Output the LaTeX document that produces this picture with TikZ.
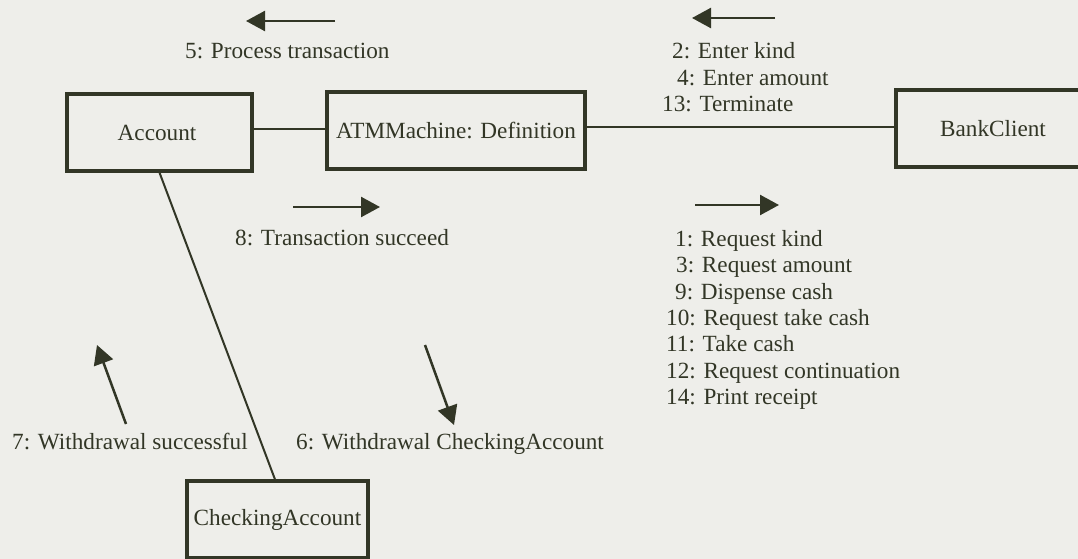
\documentclass[tikz,border=0pt]{standalone}
\usepackage{fontspec}
\setmainfont{Liberation Serif}
\usetikzlibrary{arrows.meta}
\definecolor{paper}{RGB}{238,238,234}
\definecolor{ink}{RGB}{50,54,38}
\begin{document}
\begin{tikzpicture}[x=1pt,y=-1pt,
  every node/.style={font=\fontsize{23.2}{26.3}\selectfont, text=ink},
  obj/.style={draw=ink, line width=3.2pt, rectangle, inner sep=0pt},
  link/.style={draw=ink, line width=2pt},
  msg/.style={draw=ink, line width=2.5pt, -{Triangle[length=19pt,width=20pt]}},
  lbl/.style={anchor=base west, inner sep=0pt}]
\fill[paper] (0,0) rectangle (1078,559);
\useasboundingbox (0,0) rectangle (1078,559);

% objects
\node[obj, minimum width=185pt, minimum height=77pt] (account) at (159.5,132.5) {\hspace*{-5pt}Account};
\node[obj, minimum width=258pt, minimum height=77pt] (atm) at (456,130.5) {ATMMachine: Definition};
\node[obj, minimum width=220pt, minimum height=77pt] (bank) at (1006,128.5) {\hspace*{-26pt}BankClient};
\node[obj, minimum width=181pt, minimum height=77pt] (check) at (277.5,519.5) {CheckingAccount};

% links
\draw[link] (account.east |- 0,129) -- (atm.west |- 0,129);
\draw[link] (atm.east |- 0,127) -- (bank.west |- 0,127);
\draw[link] (account.south) -- ([xshift=-2.5pt]check.north);

% message arrows
\coordinate (m5a) at (335,21);  \coordinate (m5b) at (246,21);
\coordinate (m2a) at (775,18);  \coordinate (m2b) at (692,18);
\coordinate (m8a) at (293,207); \coordinate (m8b) at (380,207);
\coordinate (m1a) at (695,205); \coordinate (m1b) at (779,205);
\coordinate (m7a) at (126,424); \coordinate (m7b) at (97,345);
\coordinate (m6a) at (425,345); \coordinate (m6b) at (454,425);
\draw[msg] (m5a) -- (m5b);
\draw[msg] (m2a) -- (m2b);
\draw[msg] (m8a) -- (m8b);
\draw[msg] (m1a) -- (m1b);
\draw[msg] (m7a) -- (m7b);
\draw[msg] (m6a) -- (m6b);

% message labels
\node[lbl] (l5) at (185,59) {5: Process transaction};
\node[lbl] (l2) at (672,59) {2: Enter kind};
\node[lbl] (l4) at (677,85.5) {4: Enter amount};
\node[lbl] (l13) at (662,112) {13: Terminate};
\node[lbl] (l8) at (235,245) {8: Transaction succeed};
\node[lbl] (l1) at (675,246) {1: Request kind};
\node[lbl] (l3) at (676,272.5) {3: Request amount};
\node[lbl] (l9) at (675,299) {9: Dispense cash};
\node[lbl] (l10) at (666,325) {10: Request take cash};
\node[lbl] (l11) at (666,351.5) {11: Take cash};
\node[lbl] (l12) at (666,378) {12: Request continuation};
\node[lbl] (l14) at (666,404) {14: Print receipt};
\node[lbl] (l7) at (12,449) {7: Withdrawal successful};
\node[lbl] (l6) at (296,449) {6: Withdrawal CheckingAccount};
\end{tikzpicture}
\end{document}
